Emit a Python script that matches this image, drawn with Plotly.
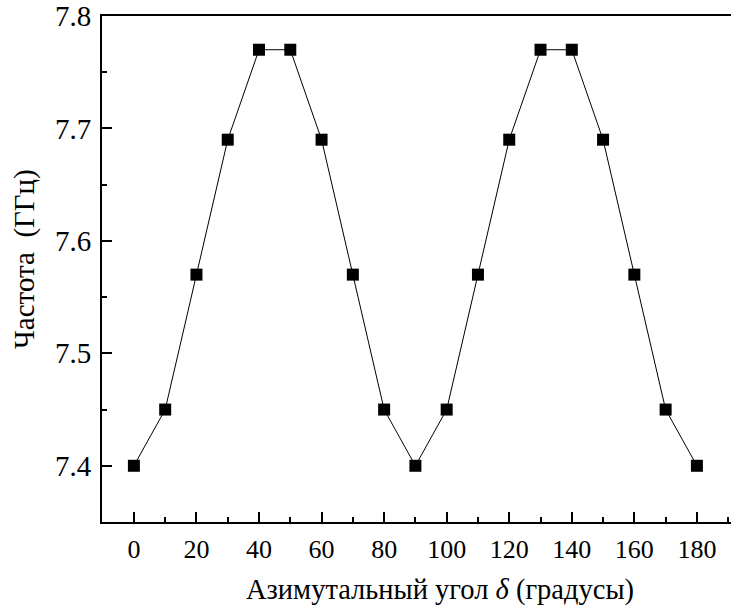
import plotly.graph_objects as go

# Azimuthal angle (degrees) and resonance frequency (GHz)
angle_deg = [0, 10, 20, 30, 40, 50, 60, 70, 80, 90,
             100, 110, 120, 130, 140, 150, 160, 170, 180]
freq_ghz = [7.40, 7.45, 7.57, 7.69, 7.77, 7.77, 7.69, 7.57, 7.45, 7.40,
            7.45, 7.57, 7.69, 7.77, 7.77, 7.69, 7.57, 7.45, 7.40]

x_ticks = [0, 20, 40, 60, 80, 100, 120, 140, 160, 180]
y_ticks = [7.4, 7.5, 7.6, 7.7, 7.8]

x_title = "Азимутальный угол <i>δ</i> (градусы)"
y_title = "Частота  (ГГц)"

FONT = "Liberation Serif"

fig = go.Figure(
    go.Scatter(
        x=angle_deg,
        y=freq_ghz,
        mode="lines+markers",
        line=dict(color="black", width=1),
        marker=dict(symbol="square", size=12, color="black"),
        showlegend=False,
    )
)

fig.update_layout(
    template="none",
    width=731,
    height=616,
    margin=dict(l=102, r=0, t=16, b=94),
    paper_bgcolor="white",
    plot_bgcolor="white",
    font=dict(family=FONT, size=26, color="black"),
)

fig.update_xaxes(
    range=[-10.2, 190.9],
    tickvals=x_ticks,
    ticktext=[str(v) for v in x_ticks],
    ticks="inside",
    ticklen=10,
    tickwidth=1.5,
    tickcolor="black",
    minor=dict(dtick=10, tick0=0, ticks="inside", ticklen=5, tickwidth=1.5, tickcolor="black"),
    showline=True,
    linecolor="black",
    linewidth=2,
    mirror=True,
    showgrid=False,
    zeroline=False,
    ticklabelstandoff=3,
    tickfont=dict(family=FONT, size=26, color="black"),
)

fig.update_yaxes(
    range=[7.35, 7.8],
    tickvals=y_ticks,
    ticktext=[f"{v:.1f}" for v in y_ticks],
    ticks="inside",
    ticklen=10,
    tickwidth=1.5,
    tickcolor="black",
    minor=dict(dtick=0.05, tick0=7.35, ticks="inside", ticklen=5, tickwidth=1.5, tickcolor="black"),
    showline=True,
    linecolor="black",
    linewidth=2,
    mirror=False,
    showgrid=False,
    zeroline=False,
    ticklabelstandoff=3,
    tickfont=dict(family=FONT, size=29, color="black"),
)

# Axis titles placed as paper-anchored annotations
fig.add_annotation(
    text=x_title, xref="paper", yref="paper", x=0.5374, y=-0.1344,
    xanchor="center", yanchor="middle", showarrow=False,
    font=dict(family=FONT, size=28.5, color="black"),
)
fig.add_annotation(
    text=y_title, xref="paper", yref="paper", x=-0.1224, y=0.5198,
    xanchor="center", yanchor="middle", textangle=-90, showarrow=False,
    font=dict(family=FONT, size=29, color="black"),
)

fig.write_html(
    "out.html",
    post_script="document.documentElement.style.overflow='hidden';"
                "document.body.style.overflow='hidden';"
                "document.body.style.margin='0';",
)
